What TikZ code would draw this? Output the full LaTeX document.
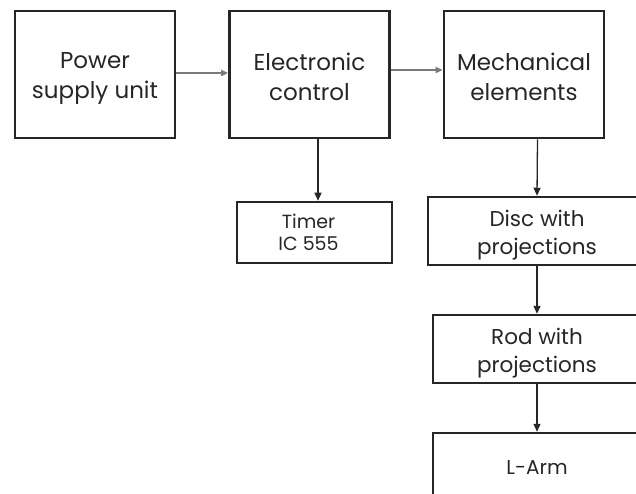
\documentclass[tikz,border=0pt]{standalone}
\usepackage{fontspec}
\setmainfont{Poppins}
\usetikzlibrary{arrows.meta}
\definecolor{ink}{HTML}{262626}
\definecolor{grayline}{HTML}{7A7A7A}
\newcommand{\topstrut}{\rule{0pt}{23pt}}
\newcommand{\lowstrut}{\rule{0pt}{24pt}}
\newcommand{\myleftnudge}{\hspace*{-12pt}}
\tikzset{
  topbox/.style={draw=ink, line width=2.7pt, minimum width=160pt, minimum height=127pt, inner sep=0pt, align=center, text=ink, font=\fontsize{23}{30}\selectfont},
  lowbox/.style={draw=ink, line width=2.5pt, inner sep=0pt, align=center, text=ink, font=\fontsize{21.5}{28}\selectfont},
  harrow/.style={draw=grayline, line width=1.8pt, -{Triangle[length=7pt,width=6pt]}},
  varrow/.style={draw=ink, line width=1.3pt, -{Triangle[length=8pt,width=7pt]}}
}
\begin{document}
\begin{tikzpicture}[x=1pt,y=-1pt]
\useasboundingbox (0,0) rectangle (636,494);
\fill[white] (0,0) rectangle (636,494);
\clip (0,0) rectangle (636,494);
\node[topbox] (power) at (95,74.5) {\topstrut Power\\supply unit};
\node[topbox] (elec) at (309.5,74.5) {\topstrut Electronic\\control};
\node[topbox] (mech) at (524,74.5) {\topstrut Mechanical\\elements};
\node[lowbox, minimum width=155pt, minimum height=61pt, font=\fontsize{19}{22}\selectfont] (timer) at (314.5,232.5) {\myleftnudge Timer\\\myleftnudge IC 555};
\node[lowbox, minimum width=218pt, minimum height=68pt] (disc) at (537,231) {\lowstrut Disc with\\projections};
\node[lowbox, minimum width=208pt, minimum height=68pt] (rod) at (537,349) {\lowstrut Rod with\\projections};
\node[lowbox, minimum width=208pt, minimum height=70pt, font=\fontsize{20}{26}\selectfont] (larm) at (537,468) {L-Arm};
\draw[harrow] ([yshift=1.5pt]power.east) -- ([yshift=1.5pt]elec.west);
\draw[harrow] ([yshift=4.5pt]elec.east) -- ([yshift=4.5pt]mech.west);
\draw[varrow] ([xshift=8.5pt]elec.south) -- ([xshift=3.5pt]timer.north);
\draw[varrow] ([xshift=13.5pt]mech.south) -- (disc.north);
\draw[varrow] (disc.south) -- (rod.north);
\draw[varrow] (rod.south) -- (larm.north);
\end{tikzpicture}
\end{document}
